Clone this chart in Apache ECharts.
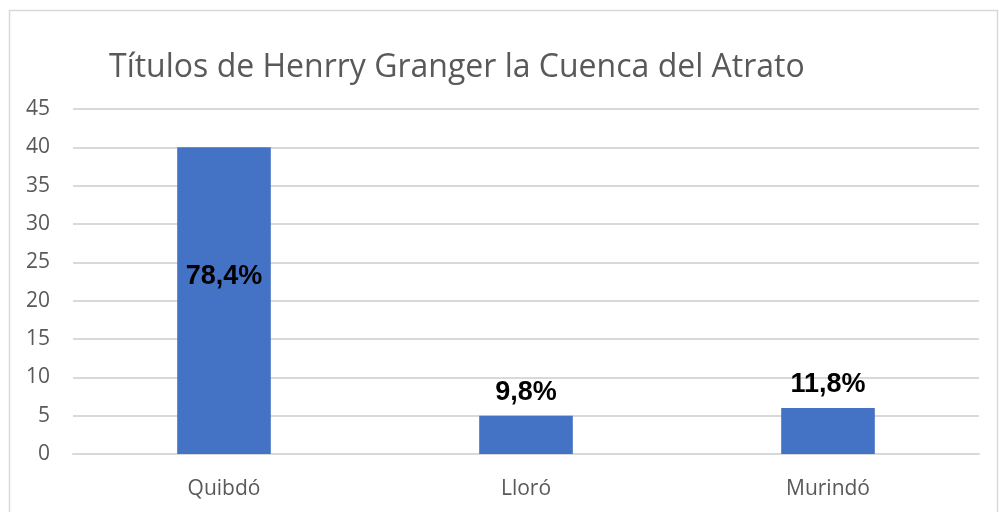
<!DOCTYPE html>
<html>
<head>
<meta charset="utf-8">
<script src="https://cdn.jsdelivr.net/npm/echarts@6/dist/echarts.min.js"></script>
<style>
  html, body { margin: 0; padding: 0; background: #fff; }
  #main { width: 999px; height: 512px; }
</style>
</head>
<body>
<div id="main"></div>
<script>
// datos del gráfico
var categorias = ['Quibdó', 'Lloró', 'Murindó'];
var titulos = [40, 5, 6];
var porcentajes = ['78,4%', '9,8%', '11,8%'];

var myChart = echarts.init(document.getElementById('main'));

var barData = titulos.map(function (v, i) {
    var item = { value: v };
    if (i === 0) {
        // la etiqueta de Quibdó va dentro de la barra
        item.label = { position: 'inside', offset: [0, -24] };
    }
    return item;
});

var option = {
    animation: false,
    graphic: [
        {
            type: 'rect',
            shape: { x: 9.5, y: 10.5, width: 988, height: 520 },
            style: { fill: 'none', stroke: '#d9d9d9', lineWidth: 1.5 },
            silent: true
        }
    ],
    title: {
        text: 'Títulos de Henrry Granger la Cuenca del Atrato',
        left: 104,
        top: 47,
        textStyle: {
            fontFamily: 'Open Sans',
            fontWeight: 'normal',
            fontSize: 32,
            color: '#595959'
        }
    },
    grid: {
        left: 73,
        right: 20,
        top: 109,
        bottom: 58,
        containLabel: false
    },
    xAxis: {
        type: 'category',
        data: categorias,
        axisTick: { show: false },
        axisLine: { lineStyle: { color: '#d9d9d9', width: 2 } },
        axisLabel: {
            color: '#595959',
            fontFamily: 'Open Sans',
            fontSize: 21,
            margin: 25
        }
    },
    yAxis: {
        type: 'value',
        min: 0,
        max: 45,
        interval: 5,
        axisLine: { show: false },
        axisTick: { show: false },
        splitLine: { lineStyle: { color: '#d9d9d9', width: 2 } },
        axisLabel: {
            color: '#595959',
            fontFamily: 'Open Sans',
            fontSize: 21,
            margin: 23
        }
    },
    series: [
        {
            type: 'bar',
            data: barData,
            barWidth: '31%',
            itemStyle: { color: '#4472c4' },
            label: {
                show: true,
                position: 'top',
                distance: 10,
                color: '#000',
                fontFamily: 'Liberation Sans',
                fontWeight: 'bold',
                fontSize: 27,
                formatter: function (p) {
                    return porcentajes[p.dataIndex];
                }
            }
        }
    ]
};

myChart.setOption(option);
</script>
</body>
</html>
